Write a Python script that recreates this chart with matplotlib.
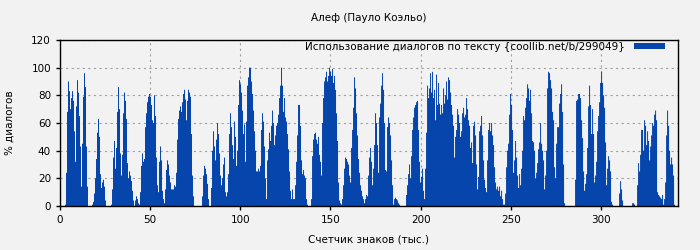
import matplotlib
matplotlib.use("Agg")
import matplotlib.pyplot as plt
import numpy as np

title = "Алеф (Пауло Коэльо)"
x_label = "Счетчик знаков (тыс.)"
y_label = "% диалогов"
legend_label = "Использование диалогов по тексту {coollib.net/b/299049}"

bin_width = 0.5546  # thousand characters per bin
x_ticks = [0, 50, 100, 150, 200, 250, 300]
y_ticks = [0, 20, 40, 60, 80, 100, 120]

seg_a = [0, 0, 0, 0, 0, 1, 24, 68, 90, 83, 70, 78, 83, 76, 54, 32, 72, 91, 82, 65,
         43, 14, 45, 79, 96, 86, 43, 14, 0, 0, 0, 0, 1, 3, 9, 20, 34, 53, 63, 50,
         23, 13, 17, 19, 14, 4, 0, 0, 0, 0, 0, 1, 12, 35, 47, 27, 42, 68, 86, 70]
seg_b = [38, 22, 37, 67, 82, 76, 63, 31, 20, 25, 22, 18, 11, 4, 0, 4, 7, 5, 2, 1,
         10, 29, 38, 32, 34, 57, 67, 75, 79, 81, 79, 73, 62, 60, 80, 65, 35, 15, 10, 32,
         43, 33, 11, 5]
seg_c = [2, 12, 26, 33, 30, 22, 17, 12, 12, 12, 15, 14, 24, 48, 63, 69, 72, 68, 75, 81,
         84, 77, 62, 76, 84, 82, 79, 52, 22, 7, 0, 0, 0, 0, 0, 0, 0, 0,
         7, 22, 29, 27, 23, 16, 5, 0, 0, 13, 40, 54, 43, 33, 48, 60, 52, 38, 22, 15,
         20, 30, 35, 10, 7, 10, 23, 52, 67, 57, 44, 34, 61, 50, 29, 40, 73, 91, 88, 82,
         69, 52, 59, 32, 61, 87, 93, 100, 100, 90, 81, 69, 54, 40, 25, 25, 27, 25, 29, 55,
         67, 61, 43, 20, 5, 33, 41, 53]
seg_d = [47, 58, 69, 60, 44, 51, 58, 60, 66, 78, 87, 100, 87, 68, 78, 64, 61, 52, 41, 25,
         11, 5, 12, 5, 5, 15, 32, 51, 73, 73, 58, 33, 23, 26, 22, 20, 5, 1, 0, 0,
         0, 5, 36, 48, 52, 53, 48, 45, 50, 37, 32, 22, 60, 78, 90, 93, 97, 90, 94, 100,
         97, 94, 99, 89, 94, 84, 67, 47, 17, 4, 2, 1, 5, 15, 27, 35, 34, 32, 30, 22,
         17, 42, 55, 71, 93, 85, 67, 51, 34, 24, 15, 11, 7, 5, 2, 5, 8, 7, 22, 35,
         42, 32, 15, 27, 44]
seg_e = [67, 60, 44, 24, 64, 74, 87, 96, 84, 60, 26, 25, 57, 64, 60, 51, 33, 15, 1, 5,
         6, 5, 4, 2, 1, 0, 0, 0, 0, 0, 0, 8, 15, 23, 30, 20, 36, 55, 64, 71, 73,
         75, 76, 55, 32, 17, 21, 27, 11, 5, 27, 53, 87, 78, 85, 96, 82, 97, 78, 84, 62,
         95, 73, 89, 74, 66, 73, 67, 85, 74, 80, 90, 77, 93, 91, 82, 73, 66, 58, 35, 50,
         55, 70, 66, 60, 50, 54, 67, 71, 64, 66, 78, 70, 62, 58, 42, 46, 31, 58, 61, 51,
         30, 12, 21, 54]
seg_f = [58, 65, 51, 33, 19, 13, 10, 33, 55, 60, 54, 60, 51, 44, 28, 17, 12, 14, 11, 14,
         7, 11, 5, 1, 1, 9, 28, 40, 45, 66, 81, 73, 55, 24, 33, 47, 35, 22, 13, 23,
         15, 27, 40, 65, 62, 71, 78, 88, 85, 76, 84, 67, 47, 46, 40, 20, 24, 31, 41, 46,
         60, 45, 40, 33, 12, 22, 40, 85, 97, 96, 91, 85, 68, 62, 28]
seg_g = [20, 45, 57, 57, 74, 81, 88, 68, 30, 2, 0, 0, 0, 0, 0, 0, 0, 0, 0, 0,
         19, 76, 77, 81, 81, 78, 62, 49, 25, 11, 16, 23, 42, 72, 87, 73, 52, 70, 52, 17,
         22, 32, 54, 65, 75, 89, 97, 89, 80, 71, 46, 15, 27, 36, 33, 25, 3, 1, 0, 0,
         0, 0, 0, 0, 9, 18, 12, 4, 0, 0, 0, 0, 0, 0, 0, 0, 0]
seg_h = [2, 2, 1, 0, 0, 15, 31, 25, 37, 55, 55, 40, 62, 58, 44, 54, 47, 33, 43, 51,
         60, 58, 66, 69, 62, 10, 8, 7, 6, 5, 8, 1, 5, 17, 51, 69, 58, 40, 30, 35,
         30, 22, 1]

values = np.array(seg_a + seg_b + seg_c + seg_d + seg_e + seg_f + seg_g + seg_h, dtype=float)
edges = np.arange(len(values) + 1) * bin_width

bg = "#f2f2f2"
bar_color = "#0646ac"
fs = 7.5

fig = plt.figure(figsize=(7, 2.5), dpi=100, facecolor=bg)
ax = fig.add_axes([60 / 700, 44 / 250, 618 / 700, 166 / 250])
ax.set_facecolor(bg)

ax.stairs(values, edges, fill=True, color=bar_color, linewidth=0, label=legend_label)

ax.set_xlim(0, 342.7)
ax.set_ylim(0, 120)
ax.set_xticks(x_ticks)
ax.set_yticks(y_ticks)
ax.set_axisbelow(True)
ax.grid(True, color="#a0a0a0", linestyle=(0, (2, 3)), linewidth=0.8)

for s in ax.spines.values():
    s.set_linewidth(1.0)
    s.set_color("black")
ax.tick_params(direction="out", length=3, width=1, labelsize=fs, colors="black")

ax.set_title(title, fontsize=fs, pad=14)
ax.set_xlabel(x_label, fontsize=fs, labelpad=7)
ax.set_ylabel(y_label, fontsize=fs, labelpad=12)

ax.legend(loc="upper right", bbox_to_anchor=(0.979, 0.99), frameon=False,
          markerfirst=False, fontsize=fs,
          handlelength=3.0, handleheight=0.6, handletextpad=0.9,
          borderaxespad=0.0, borderpad=0.0)

fig.savefig("out.png", dpi=100, facecolor=bg)
